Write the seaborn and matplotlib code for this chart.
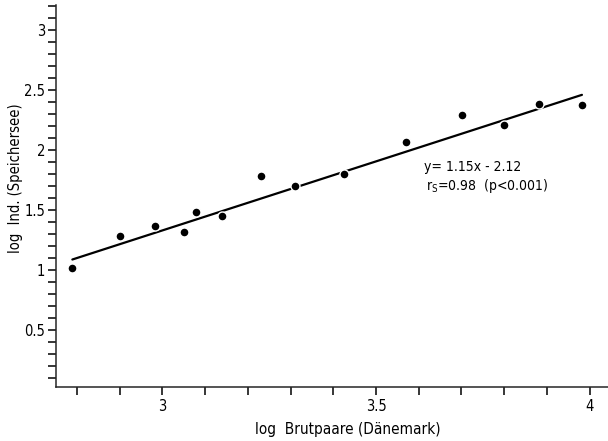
import numpy as np
import pandas as pd
import matplotlib
matplotlib.use("Agg")
import matplotlib.pyplot as plt
from matplotlib.ticker import MultipleLocator, FixedLocator, FuncFormatter
import seaborn as sns

# log10 breeding pairs in Denmark vs. log10 individuals at the Speichersee
log_pairs = [2.789, 2.900, 2.982, 3.050, 3.079, 3.140, 3.230, 3.311,
             3.426, 3.569, 3.701, 3.800, 3.881, 3.982]
log_ind = [1.014, 1.283, 1.367, 1.319, 1.486, 1.450, 1.783, 1.703,
           1.800, 2.067, 2.294, 2.211, 2.381, 2.378]

# regression y = slope * x + intercept
slope = 1.15
intercept = -2.12
r_s = 0.98

x_ticks = [3, 3.5, 4]
y_ticks = [0.5, 1, 1.5, 2, 2.5, 3]

sns.set_style("ticks")
plt.rcParams["font.family"] = ["DejaVu Sans"]
plt.rcParams["font.stretch"] = "condensed"
plt.rcParams["axes.linewidth"] = 1.1
plt.rcParams["text.color"] = "black"

df = pd.DataFrame({"x": log_pairs, "y": log_ind})
x_fit = np.array([min(log_pairs), max(log_pairs)])
fit = pd.DataFrame({"x": x_fit, "y": slope * x_fit + intercept})

fig = plt.figure(figsize=(6.08, 4.41), dpi=100)
ax = fig.add_axes([0.0916, 0.1224, 0.9084, 0.8663])

sns.lineplot(data=fit, x="x", y="y", ax=ax, color="black", lw=1.6, zorder=2)
sns.scatterplot(data=df, x="x", y="y", ax=ax, color="black", s=42,
                edgecolor="white", linewidth=1.0, zorder=3)

ax.set_xlim(2.75, 4.043)
ax.set_ylim(0.025, 3.208)
sns.despine(ax=ax)

ax.xaxis.set_major_locator(FixedLocator(x_ticks))
ax.xaxis.set_minor_locator(MultipleLocator(0.1))
ax.yaxis.set_major_locator(FixedLocator(y_ticks))
ax.yaxis.set_minor_locator(MultipleLocator(0.1))
fmt = FuncFormatter(lambda v, p: f"{v:g}")
ax.xaxis.set_major_formatter(fmt)
ax.yaxis.set_major_formatter(fmt)

ax.tick_params(axis="both", which="both", direction="out", length=5.5,
               width=1.1, color="black", labelsize=10.5, labelcolor="black")
ax.tick_params(axis="x", which="both", pad=3)
ax.tick_params(axis="y", which="both", pad=2)

ax.set_xlabel("log  Brutpaare (Dänemark)", fontsize=11, color="black")
ax.set_ylabel("log  Ind. (Speichersee)", fontsize=10.5, color="black")
ax.xaxis.set_label_coords(0.529, -0.11)
ax.yaxis.set_label_coords(-0.072, 0.547)
ax.xaxis.label.set_va("center")
ax.yaxis.label.set_va("center")

ax.text(3.612, 1.86, f"y= {slope:g}x - {abs(intercept):g}", fontsize=10,
        ha="left", va="center")
ax.text(3.618, 1.70, r"$\mathregular{r_S}$" + f"={r_s:g}  (p<0.001)",
        fontsize=10, ha="left", va="center")

fig.savefig("out.png", dpi=100)
